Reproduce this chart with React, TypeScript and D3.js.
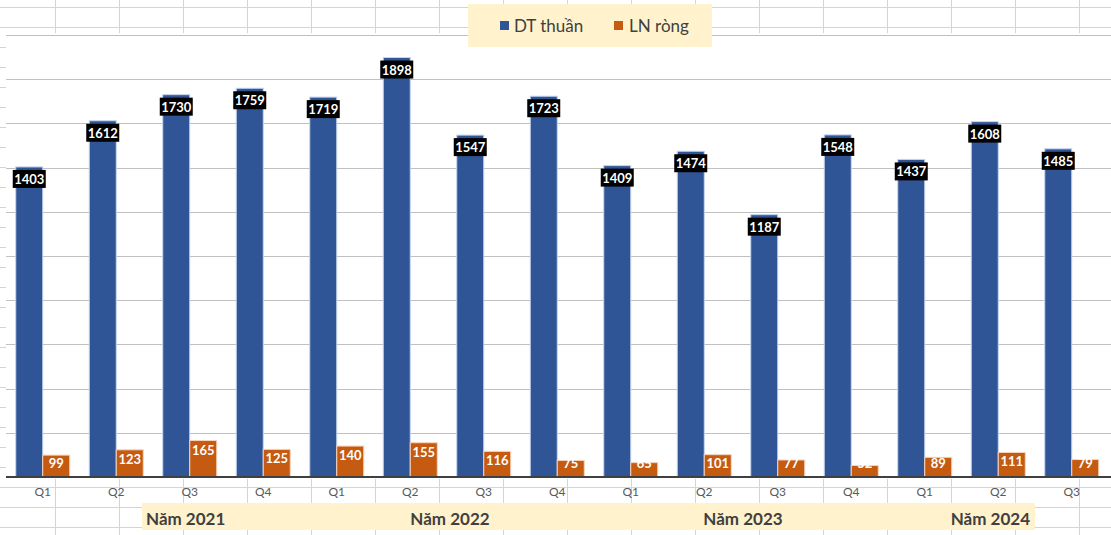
import React from "react";
import * as d3 from "d3";

const categories = ["Q1","Q2","Q3","Q4","Q1","Q2","Q3","Q4","Q1","Q2","Q3","Q4","Q1","Q2","Q3"];
const dtThuan = [1403,1612,1730,1759,1719,1898,1547,1723,1409,1474,1187,1548,1437,1608,1485];
const lnRong = [99,123,165,125,140,155,116,75,65,101,77,52,89,111,79];
const yearLabels = ["Năm 2021","Năm 2022","Năm 2023","Năm 2024"];
const yTicks = [0,200,400,600,800,1000,1200,1400,1600,1800,2000];

const W = 1111, H = 535;
const plot = { left: 6, right: 1108.5, top: 35, bottom: 477 };
const BLUE = "#2f5597";
const ORANGE = "#c55a11";
const FONT = "Lato, 'Open Sans', sans-serif";

export default function App() {
  const x = d3.scaleBand<number>().domain(d3.range(categories.length)).range([plot.left, plot.right]).paddingInner(0).paddingOuter(0);
  const y = d3.scaleLinear().domain([0, 2000]).range([plot.bottom, plot.top]);
  const bw = x.bandwidth();
  const barW = 27;

  const cols = d3.range(-9, W + 64, 64);
  const rows = d3.range(7, H + 20, 20);

  const yearX = [146, 450, 743, 1030];
  const yearAnchor = ["start", "middle", "middle", "end"];

  return (
    <svg width={W} height={H} style={{ position: "absolute", left: 0, top: 0, background: "#fff" }}>
      <g stroke="#d4d4d4" strokeWidth={1}>
        {cols.map((c) => <line key={"c" + c} x1={c + 0.5} x2={c + 0.5} y1={0} y2={H} />)}
        {rows.map((r) => <line key={"r" + r} x1={0} x2={W} y1={r + 0.5} y2={r + 0.5} />)}
      </g>
      <rect x={6} y={33} width={W - 6} height={479 - 33} fill="#fff" />
      <g stroke="#c0c0c0" strokeWidth={1}>
        {yTicks.slice(1).map((t) => (
          <line key={t} x1={6} x2={W} y1={Math.round(y(t)) + 0.5} y2={Math.round(y(t)) + 0.5} />
        ))}
      </g>
      {categories.map((c, i) => {
        const cx = x(i)! + bw / 2;
        const topB = y(dtThuan[i]);
        const topO = y(lnRong[i]);
        const lblO = Math.min(topO + 9, 463);
        return (
          <g key={i}>
            <rect x={cx - barW} y={topB} width={barW} height={plot.bottom - topB} fill={BLUE} stroke="#c6d5ee" strokeWidth={1} />
            <rect x={cx} y={topO} width={barW} height={plot.bottom - topO} fill={ORANGE} stroke="#f6d3bd" strokeWidth={1} />
            <rect x={cx - barW / 2 - 16.5} y={topB + 3} width={33} height={18} fill="#000" />
            <text x={cx - barW / 2} y={topB + 12} textAnchor="middle" dominantBaseline="central" fill="#fff" fontFamily={FONT} fontWeight={700} fontSize={13}>{dtThuan[i]}</text>
            <text x={cx + barW / 2} y={lblO} textAnchor="middle" dominantBaseline="central" fill="#fff" fontFamily={FONT} fontWeight={700} fontSize={13}>{lnRong[i]}</text>
            <text x={cx} y={491} textAnchor="middle" dominantBaseline="central" fill="#595959" fontFamily={FONT} fontSize={12}>{c}</text>
          </g>
        );
      })}
      <line x1={6} x2={W} y1={477} y2={477} stroke="#404040" strokeWidth={2} />
      <rect x={468} y={4} width={244} height={43} fill="#fff2cc" />
      <rect x={500} y={21} width={9} height={9} fill={BLUE} />
      <text x={514} y={25.5} dominantBaseline="central" fill="#404040" fontFamily={FONT} fontSize={17}>DT thuần</text>
      <rect x={614} y={21} width={9} height={9} fill={ORANGE} />
      <text x={629} y={25.5} dominantBaseline="central" fill="#404040" fontFamily={FONT} fontSize={17}>LN ròng</text>
      <rect x={142} y={503} width={1035 - 142} height={27} fill="#fff2cc" />
      {yearLabels.map((t, i) => (
        <text key={t} x={yearX[i]} y={518} textAnchor={yearAnchor[i] as any} dominantBaseline="central" fill="#404040" fontFamily={FONT} fontWeight={700} fontSize={17}>{t}</text>
      ))}
    </svg>
  );
}
